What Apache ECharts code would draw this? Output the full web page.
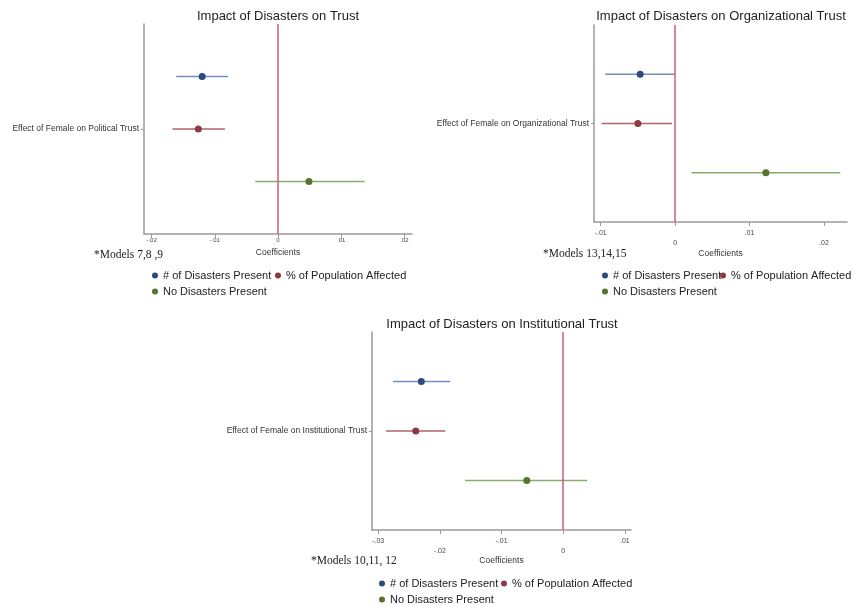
<!DOCTYPE html>
<html>
<head>
<meta charset="utf-8">
<script src="https://cdn.jsdelivr.net/npm/echarts@6/dist/echarts.min.js"></script>
<style>
html,body{margin:0;padding:0;background:#fff;}
#chart{width:854px;height:606px;}
</style>
</head>
<body>
<div id="chart"></div>
<script>
// ---- data ----
const seriesNames = ['# of Disasters Present', '% of Population Affected', 'No Disasters Present'];
const rowPositions = [1, 2, 3];

const titles = ['Impact of Disasters on Trust', 'Impact of Disasters on Organizational Trust', 'Impact of Disasters on Institutional Trust'];
const categoryLabels = ['Effect of Female on Political Trust', 'Effect of Female on Organizational Trust', 'Effect of Female on Institutional Trust'];
const modelNotes = ['*Models 7,8 ,9', '*Models 13,14,15', '*Models 10,11, 12'];

// Political trust (models 7,8,9)
const politicalCoef = [-0.0120, -0.0126, 0.0049];
const politicalLow  = [-0.0161, -0.0167, -0.0036];
const politicalHigh = [-0.0079, -0.0084, 0.0137];

// Organizational trust (models 13,14,15)
const orgCoef = [-0.0047, -0.0050, 0.0122];
const orgLow  = [-0.0094, -0.0099, 0.0022];
const orgHigh = [0.0000, -0.0004, 0.0222];

// Institutional trust (models 10,11,12)
const instCoef = [-0.0230, -0.0239, -0.0059];
const instLow  = [-0.0276, -0.0287, -0.0159];
const instHigh = [-0.0183, -0.0191, 0.0039];

// tick labels
const politicalTicks = [-0.02, -0.01, 0, 0.01, 0.02];
const orgTicks = [-0.01, 0, 0.01, 0.02];
const instTicks = [-0.03, -0.02, -0.01, 0, 0.01];

// ---- styling ----
const pointColors = ['#2c4a7c', '#8c3a44', '#55752f'];
const lineColors = ['#6f8fc0', '#b0636a', '#8aab6c'];
const axisGray = '#9a9a9a';
const refColor = '#cc5a80';

const panels = [
  {coef: politicalCoef, low: politicalLow, high: politicalHigh, ticks: politicalTicks, xmin: -0.0212, xmax: 0.0212, stagger: false,
   tickFont: 6, tickMargin: 3,
   grid: {left: 144, top: 24, width: 268, height: 210}, nameGap: 14, titleX: 273, titleY: 5,
   note: {x: 94, y: 256}, legend: {x: 147, y: 265}, legend2x: 270},
  {coef: orgCoef, low: orgLow, high: orgHigh, ticks: orgTicks, xmin: -0.0109, xmax: 0.0231, stagger: true,
   tickFont: 7, tickMargin: 8,
   grid: {left: 594, top: 25, width: 253, height: 197}, nameGap: 27, titleX: 716, titleY: 5,
   note: {x: 543, y: 255}, legend: {x: 597, y: 265}, legend2x: 715},
  {coef: instCoef, low: instLow, high: instHigh, ticks: instTicks, xmin: -0.0310, xmax: 0.0110, stagger: true,
   tickFont: 7, tickMargin: 8,
   grid: {left: 372, top: 332, width: 259, height: 198}, nameGap: 26, titleX: 497, titleY: 313,
   note: {x: 311, y: 562}, legend: {x: 374, y: 573}, legend2x: 496}
];

function fmtTick(v) {
  if (Math.abs(v) < 1e-12) return '0';
  let s = String(Math.round(v * 100) / 100);
  return s.replace('0.', '.');
}

const option = {
  backgroundColor: '#fff',
  animation: false,
  title: [], grid: [], xAxis: [], yAxis: [], series: [], legend: [], graphic: []
};

panels.forEach((p, k) => {
  option.title.push({
    text: titles[k], left: p.titleX, top: p.titleY, textAlign: 'center',
    textStyle: {fontFamily: 'Liberation Sans, Arial, sans-serif', fontSize: 13, fontWeight: 'normal', color: '#222'}
  });
  option.grid.push(Object.assign({containLabel: false}, p.grid));
  option.xAxis.push({
    type: 'value', gridIndex: k, min: p.xmin, max: p.xmax,
    name: 'Coefficients', nameLocation: 'middle', nameGap: p.nameGap,
    nameTextStyle: {fontFamily: 'Liberation Sans, Arial, sans-serif', fontSize: 8.5, color: '#333'},
    splitLine: {show: false},
    axisLine: {show: true, onZero: false, lineStyle: {color: axisGray, width: 1.5}},
    axisTick: {show: true, customValues: p.ticks, length: 4, lineStyle: {color: axisGray}},
    axisLabel: {
      customValues: p.ticks, fontSize: p.tickFont, color: '#444', margin: p.tickMargin,
      fontFamily: 'Liberation Sans, Arial, sans-serif',
      formatter: function (v) {
        const t = fmtTick(v);
        if (p.stagger && Math.round(v / 0.01) % 2 === 0) return '{lo|' + t + '}';
        return t;
      },
      rich: {lo: {fontSize: p.tickFont, color: '#444', padding: [10, 0, 0, 0]}}
    }
  });
  option.yAxis.push({
    type: 'value', gridIndex: k, min: 0, max: 4, inverse: true,
    splitLine: {show: false},
    axisLine: {show: true, onZero: false, lineStyle: {color: axisGray, width: 1.5}},
    axisTick: {show: true, customValues: [2], length: 3, lineStyle: {color: axisGray}},
    axisLabel: {
      customValues: [2], fontSize: 8.5, color: '#333', margin: 5,
      fontFamily: 'Liberation Sans, Arial, sans-serif',
      formatter: function () { return categoryLabels[k]; }
    }
  });
  // confidence interval bars
  seriesNames.forEach((nm, i) => {
    option.series.push({
      type: 'custom', xAxisIndex: k, yAxisIndex: k, silent: true,
      name: nm + '_ci',
      data: [[p.low[i], p.high[i], rowPositions[i]]],
      renderItem: function (params, api) {
        const a = api.coord([api.value(0), api.value(2)]);
        const b = api.coord([api.value(1), api.value(2)]);
        return {type: 'line', shape: {x1: a[0], y1: a[1], x2: b[0], y2: b[1]},
          style: {stroke: lineColors[i], lineWidth: 1.6}};
      },
      z: 2
    });
  });
  seriesNames.forEach((nm, i) => {
    const s = {
      type: 'scatter', name: nm, xAxisIndex: k, yAxisIndex: k,
      data: [[p.coef[i], rowPositions[i]]], symbolSize: 7,
      itemStyle: {color: pointColors[i], opacity: 1}, z: 3
    };
    if (i === 0) {
      s.markLine = {
        silent: true, symbol: 'none', label: {show: false},
        lineStyle: {color: refColor, width: 1.5, type: 'solid'},
        data: [{xAxis: 0}]
      };
    }
    option.series.push(s);
  });
  const legendText = {fontFamily: 'Liberation Sans, Arial, sans-serif', fontSize: 11, color: '#222'};
  option.legend.push({
    data: [seriesNames[0]], left: p.legend.x, top: p.legend.y, icon: 'circle',
    itemWidth: 6, itemHeight: 6, itemGap: 4, textStyle: legendText, selectedMode: false
  });
  option.legend.push({
    data: [seriesNames[1]], left: p.legend2x, top: p.legend.y, icon: 'circle',
    itemWidth: 6, itemHeight: 6, itemGap: 4, textStyle: legendText, selectedMode: false
  });
  option.legend.push({
    data: [seriesNames[2]], left: p.legend.x, top: p.legend.y + 16, icon: 'circle',
    itemWidth: 6, itemHeight: 6, itemGap: 4, textStyle: legendText, selectedMode: false
  });
  option.graphic.push({
    type: 'text', left: p.note.x, top: p.note.y - 7,
    style: {text: modelNotes[k], font: '11.5px "Liberation Serif", "Times New Roman", serif', fill: '#222'}
  });
});

const chart = echarts.init(document.getElementById('chart'), null, {renderer: 'canvas'});
chart.setOption(option);
</script>
</body>
</html>
